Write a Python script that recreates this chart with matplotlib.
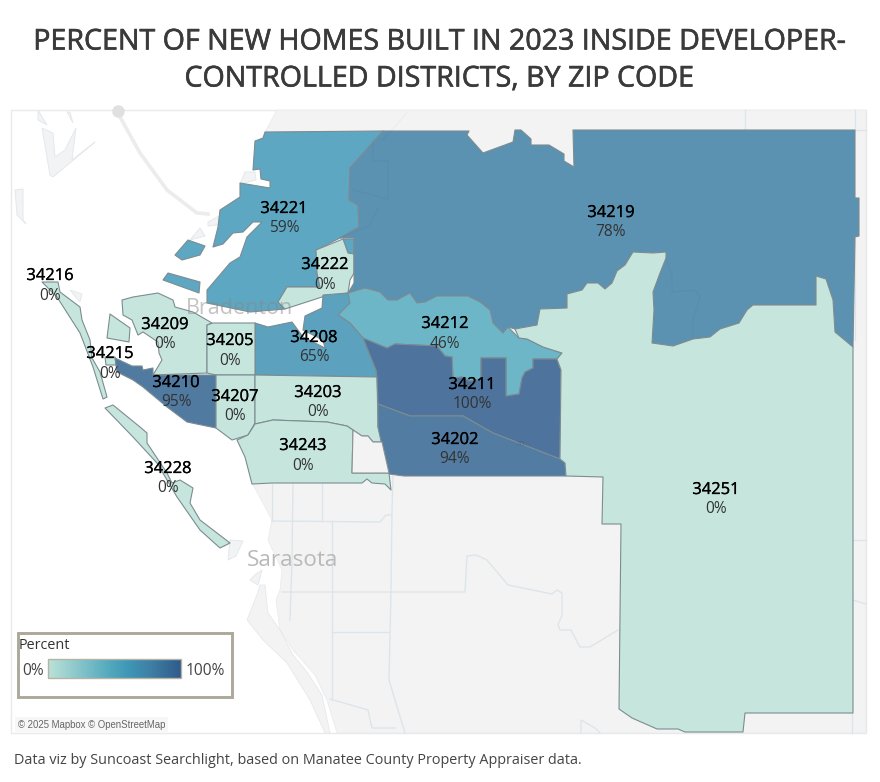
import numpy as np
import matplotlib
matplotlib.use("Agg")
import matplotlib.pyplot as plt
import matplotlib.patheffects as pe
from matplotlib.colors import LinearSegmentedColormap, Normalize
from matplotlib.patches import Polygon, Rectangle

# zip codes and share of new homes inside developer-controlled districts
zips = ["34221", "34222", "34219", "34212", "34208", "34216", "34209", "34205", "34215",
        "34210", "34207", "34203", "34243", "34228", "34211", "34202", "34251"]
percents = [59, 0, 78, 46, 65, 0, 0, 0, 0, 95, 0, 0, 0, 0, 100, 94, 0]

# label anchors in image pixels: zip line y, percent line y
label_x = [284, 325, 611, 445, 314, 50, 165, 230, 110, 176, 235, 318, 303, 168, 472, 455, 716]
label_y = [208, 264, 212, 323, 337, 275, 324, 340, 353, 382, 396, 392, 445, 468, 384, 439, 489]
pct_y = [227, 284, 231, 343, 356, 295, 343, 360, 373, 401, 415, 411, 465, 487, 403, 458, 508]

shapes = {
    "34221": [
        [(265, 132), (383, 131), (350, 168), (349, 200), (358, 205), (359, 227), (340, 238), (316, 250),
         (317, 273), (320, 287), (287, 287), (278, 302), (285, 309), (250, 312), (207, 303), (207, 290),
         (230, 263), (240, 257), (247, 237), (262, 222), (253, 222), (243, 232), (233, 233), (223, 244),
         (213, 247), (218, 227), (220, 210), (240, 197), (240, 183), (270, 188), (270, 181), (261, 179),
         (260, 169), (253, 170), (255, 141), (263, 138)],
        [(343, 239), (354, 239), (354, 254), (348, 253)],
        [(175, 255), (188, 240), (205, 246), (200, 255), (182, 260)],
        [(168, 273), (200, 282), (199, 293), (163, 280)],
    ],
    "34222": [[(343, 239), (316, 250), (317, 273), (320, 287), (287, 287), (278, 302), (285, 309), (322, 297),
               (348, 293), (350, 280), (354, 273), (354, 254), (348, 253)]],
    "34219": [[(383, 131), (350, 168), (349, 200), (358, 205), (359, 227), (340, 238), (354, 238), (354, 283),
               (348, 293), (365, 288), (380, 292), (388, 300), (397, 300), (410, 293), (417, 303), (425, 302),
               (437, 296), (468, 296), (480, 302), (490, 310), (493, 323), (503, 333), (508, 327), (515, 329),
               (537, 325), (540, 309), (567, 308), (567, 294), (582, 290), (587, 283), (598, 283), (605, 289),
               (612, 283), (617, 271), (625, 265), (633, 252), (653, 253), (666, 252), (666, 258), (660, 273),
               (653, 292), (654, 310), (652, 343), (673, 346), (693, 339), (710, 337), (720, 329), (739, 323),
               (747, 310), (753, 305), (816, 305), (816, 276), (826, 279), (833, 300), (835, 332), (853, 347),
               (855, 237), (859, 236), (859, 198), (855, 198), (855, 130), (573, 130), (574, 167), (564, 161),
               (564, 154), (549, 145), (531, 145), (531, 139), (521, 130), (515, 130), (513, 142), (483, 153),
               (467, 135), (469, 131)]],
    "34212": [[(348, 293), (365, 288), (380, 292), (388, 300), (397, 300), (410, 293), (417, 303), (425, 302),
               (437, 296), (468, 296), (480, 302), (490, 310), (493, 323), (503, 333), (508, 327), (519, 338),
               (527, 339), (543, 347), (562, 353), (557, 359), (533, 359), (533, 368), (525, 372), (522, 378),
               (519, 394), (506, 396), (506, 358), (481, 358), (481, 379), (470, 381), (462, 377), (453, 378),
               (452, 357), (445, 356), (437, 346), (395, 344), (387, 348), (363, 338), (350, 323), (338, 315),
               (348, 303)]],
    "34208": [[(255, 323), (268, 327), (292, 322), (303, 337), (325, 348), (323, 340), (303, 330), (305, 316),
               (322, 308), (323, 295), (348, 293), (350, 303), (338, 315), (350, 323), (363, 338), (376, 370),
               (377, 377), (255, 375)]],
    "34216": [[(42, 282), (58, 282), (60, 292), (80, 307), (82, 320), (90, 340), (92, 358), (100, 372), (107, 397),
               (103, 399), (93, 367), (80, 333), (57, 297)]],
    "34209": [
        [(122, 300), (133, 297), (158, 293), (173, 300), (175, 307), (193, 312), (212, 323), (207, 325),
         (207, 373), (153, 375), (162, 360), (159, 353), (158, 342), (143, 332), (138, 335), (132, 320),
         (123, 315)],
        [(110, 314), (130, 328), (129, 342), (107, 338)],
    ],
    "34205": [[(207, 325), (213, 323), (255, 323), (255, 375), (216, 375), (207, 373)]],
    "34215": [[(105, 357), (115, 357), (116, 365), (106, 365)]],
    "34210": [[(115, 358), (132, 366), (142, 366), (143, 370), (153, 368), (153, 375), (216, 375), (216, 428),
               (187, 422), (167, 407), (143, 387), (133, 380), (117, 372)]],
    "34207": [[(216, 375), (255, 375), (255, 423), (248, 435), (232, 440), (216, 428)]],
    "34203": [[(255, 375), (377, 377), (378, 427), (382, 442), (373, 442), (368, 436), (362, 436), (353, 430),
               (347, 426), (327, 422), (273, 420), (255, 424)]],
    "34243": [[(255, 424), (273, 420), (327, 422), (347, 426), (353, 430), (352, 473), (389, 473), (391, 490),
               (385, 484), (372, 483), (367, 479), (362, 483), (272, 483), (252, 484), (245, 457), (237, 440),
               (248, 435)]],
    "34228": [[(105, 408), (113, 405), (140, 427), (147, 433), (147, 443), (167, 473), (172, 483), (180, 480),
               (193, 488), (190, 503), (200, 520), (230, 543), (220, 548), (200, 530), (177, 497), (157, 463),
               (133, 437)]],
    "34211": [[(363, 338), (387, 348), (395, 344), (437, 346), (445, 356), (452, 357), (453, 378), (462, 377),
               (470, 381), (481, 379), (481, 358), (506, 358), (506, 396), (519, 394), (522, 378), (525, 372),
               (533, 368), (533, 359), (557, 359), (561, 370), (560, 459), (493, 433), (463, 416), (410, 416),
               (378, 404), (377, 377), (376, 370)]],
    "34202": [[(378, 404), (410, 416), (463, 416), (493, 433), (560, 459), (565, 463), (566, 476), (404, 476),
               (389, 474), (385, 460), (378, 427)]],
    "34251": [[(515, 329), (537, 325), (540, 309), (567, 308), (567, 294), (582, 290), (587, 283), (598, 283),
               (605, 289), (612, 283), (617, 271), (625, 265), (633, 252), (653, 253), (666, 252), (666, 258),
               (660, 273), (653, 292), (654, 310), (652, 343), (673, 346), (693, 339), (710, 337), (720, 329),
               (739, 323), (747, 310), (753, 305), (816, 305), (816, 276), (826, 279), (833, 300), (835, 332),
               (853, 347), (853, 713), (745, 713), (743, 732), (685, 732), (678, 729), (657, 729), (632, 718),
               (619, 709), (621, 524), (602, 524), (603, 477), (566, 476), (565, 463), (560, 459), (561, 370),
               (557, 359), (562, 353), (543, 347), (527, 339), (519, 338)]],
}

# basemap pieces, same pixel frame
land = [(277, 110), (866, 110), (866, 733), (337, 733), (327, 700), (315, 675), (293, 650), (280, 630), (276, 600),
        (280, 590), (282, 570), (268, 540), (272, 520), (263, 503), (252, 483), (400, 476), (440, 300), (350, 168),
        (265, 132)]
notch = [(353, 430), (352, 473), (389, 473), (382, 442), (373, 442), (368, 436), (362, 436)]
barrier = [(247, 620), (258, 592), (260, 585), (265, 585), (268, 613), (280, 630), (293, 655), (307, 672), (322, 695),
           (330, 733), (325, 733), (310, 700), (287, 663), (263, 640)]
wetlands = [
    [(42, 128), (50, 175), (53, 177), (95, 142), (72, 160), (76, 128), (65, 150), (55, 157), (53, 133)],
    [(15, 190), (23, 189), (23, 220), (26, 224), (17, 215)],
    [(38, 110), (47, 125), (38, 120)],
    [(67, 112), (73, 123), (70, 112)],
    [(208, 222), (225, 213), (218, 225), (208, 226)],
    [(190, 240), (200, 228), (205, 236)],
    [(240, 184), (245, 172), (255, 172), (256, 180)],
    [(70, 290), (82, 294), (80, 302)],
    [(230, 540), (243, 541), (236, 556), (228, 560)],
    [(255, 575), (262, 570), (258, 585), (250, 580)],
]
roads = [
    [(393, 475), (392, 510), (391, 590), (389, 680), (398, 710), (405, 733)],
    [(272, 484), (272, 521)], [(322, 484), (322, 521)],
    [(272, 521), (380, 522), (386, 515), (392, 515)],
    [(293, 484), (292, 560), (290, 620)],
    [(332, 521), (332, 700)],
    [(282, 592), (465, 592), (467, 556), (476, 555), (487, 560), (508, 585), (552, 594), (557, 590), (562, 593),
     (562, 615), (558, 625), (560, 630), (571, 630), (580, 647), (590, 647), (618, 630)],
    [(332, 632), (388, 632)],
    [(330, 699), (368, 710), (372, 728), (395, 728)],
    [(600, 733), (595, 728), (581, 720), (581, 733)],
    [(853, 540), (866, 540)], [(853, 600), (866, 604)], [(745, 110), (745, 130)],
    [(855, 110), (855, 130)], [(855, 240), (855, 340)], [(855, 130), (866, 130)], [(852, 713), (852, 733)],
]
faint_lines = [
    [(373, 140), (373, 161), (388, 161), (388, 199), (354, 190)],
    [(383, 140), (407, 113)],
    [(666, 258), (672, 275), (672, 292), (695, 290), (700, 297), (693, 320), (693, 339)],
    [(378, 208), (370, 225), (340, 238)],
]

cmap = LinearSegmentedColormap.from_list(
    "percent",
    [(0, "#bce2d7"), (0.46, "#53a9be"), (0.6, "#3f97b7"), (0.78, "#3e7ea3"), (1, "#2f5b8c")],
)
norm = Normalize(0, 100)

plt.rcParams["font.family"] = ["Open Sans", "DejaVu Sans"]

fig = plt.figure(figsize=(8.8, 7.82), dpi=100)
ax = fig.add_axes([0, 0, 1, 1])
ax.axis("off")

# basemap
ax.add_patch(Rectangle((10.5, 110), 855, 623, facecolor="white", edgecolor="#eaeaea", lw=1, zorder=0))
ax.add_patch(Polygon(land, facecolor="#f3f3f3", edgecolor="#e6e9eb", lw=0.5, zorder=1))
ax.add_patch(Polygon(barrier, facecolor="#f3f3f3", edgecolor="#e2e6e9", lw=0.5, zorder=1))
for w in wetlands:
    ax.add_patch(Polygon(w, facecolor="#f1f3f5", edgecolor="#e4e9ec", lw=0.7, zorder=1))
for r in roads:
    xs, ys = zip(*r)
    ax.plot(xs, ys, color="#dde5ea", lw=1, zorder=1.5)
ax.plot([120, 140, 167, 197, 208], [117, 153, 190, 213, 214], color="#ececec", lw=2.6, zorder=1.5)
ax.plot([118], [111], "o", color="#e0e0e0", ms=8, zorder=1.5)

# zip code fills, blended with white the way the map layer is
for z, p in zip(zips, percents):
    col = 0.85 * np.array(cmap(norm(p))[:3]) + 0.15
    for part in shapes[z]:
        ax.add_patch(Polygon(part, facecolor=col, edgecolor="#7c8c92", lw=0.8, joinstyle="round", zorder=2))
ax.add_patch(Polygon(notch, facecolor="#f3f3f3", edgecolor="#8a9296", lw=0.8, zorder=2.1))
for f in faint_lines:
    xs, ys = zip(*f)
    ax.plot(xs, ys, color="#000000", alpha=0.03, lw=0.8, zorder=2.2)
ax.text(520, 444, "70", fontsize=6, color="#000000", alpha=0.12, ha="center", va="center", zorder=2.2)
ax.text(240, 308, "Bradenton", fontsize=15.5, color="#888888", alpha=0.5, ha="center", va="center", zorder=5)
ax.text(293, 560, "Sarasota", fontsize=16.2, color="#b9b9b9", ha="center", va="center", zorder=5)

# labels
medium = [pe.withStroke(linewidth=0.2, foreground="black")]
for z, p, x, y, y2 in zip(zips, percents, label_x, label_y, pct_y):
    ax.text(x, y + 1, z, fontsize=11.9, color="#000000", ha="center", va="center", zorder=6, path_effects=medium)
    ax.text(x, y2 + 1, f"{p}%", fontsize=11.2, color="#333333", ha="center", va="center", zorder=6)

# legend box
ax.add_patch(Rectangle((17.5, 632.5), 214, 64.5, facecolor="white", edgecolor="#aca99a", lw=2.1, zorder=7))
ax.text(19, 645.5, "Percent", fontsize=10.4, color="#333333", ha="left", va="center", zorder=8)
grad = np.linspace(0, 1, 256).reshape(1, -1)
ax.imshow(grad, cmap=cmap, extent=(48, 181, 678, 659), aspect="auto", zorder=8)
ax.add_patch(Rectangle((48, 659), 133, 19, facecolor="none", edgecolor="#b5b3a5", lw=1, zorder=9))
ax.text(44, 671, "0%", fontsize=11.2, color="#444444", ha="right", va="center", zorder=8)
ax.text(186, 671, "100%", fontsize=11.2, color="#444444", ha="left", va="center", zorder=8)
ax.set_xlim(0, 880)
ax.set_ylim(782, 0)

ax.text(18, 724.5, "© 2025 Mapbox © OpenStreetMap", fontsize=6.9, color="#666666", family="Liberation Sans",
        ha="left", va="center", zorder=8,
        bbox=dict(facecolor="#f7f7f7", edgecolor="none", pad=2))

# title and source line
title_weight = [pe.withStroke(linewidth=0.45, foreground="#3a3a3a")]
ax.text(439, 42, "PERCENT OF NEW HOMES BUILT IN 2023 INSIDE DEVELOPER-", fontsize=20.6, color="#3a3a3a",
        ha="center", va="center", path_effects=title_weight)
ax.text(439, 79, "CONTROLLED DISTRICTS, BY ZIP CODE", fontsize=20.6, color="#3a3a3a",
        ha="center", va="center", path_effects=title_weight)
ax.text(14, 760, "Data viz by Suncoast Searchlight, based on Manatee County Property Appraiser data.",
        fontsize=10.38, color="#444444", ha="left", va="center")

fig.savefig("out.png", dpi=100)
